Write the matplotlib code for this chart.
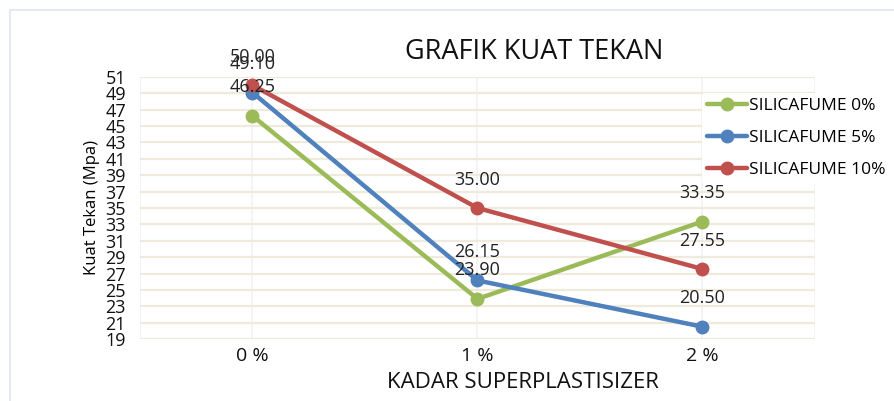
import matplotlib
matplotlib.use("Agg")
import matplotlib.pyplot as plt
from matplotlib.patches import Rectangle

categories = ["0 %", "1 %", "2 %"]
series_names = ["SILICAFUME 0%", "SILICAFUME 5%", "SILICAFUME 10%"]
sf0 = [46.25, 23.90, 33.35]
sf5 = [49.10, 26.15, 20.50]
sf10 = [50.00, 35.00, 27.55]
colors = ["#9BBB59", "#4F81BD", "#C0504D"]
yticks = list(range(19, 52, 2))

fig = plt.figure(figsize=(8.94, 4.01), dpi=100)
fig.patch.set_facecolor("white")
# faint outer frame
fig.add_artist(Rectangle((0.011, -0.05), 1.1, 1.025, transform=fig.transFigure,
                         fill=False, edgecolor="#DCE6F2", linewidth=1.2))

ax = fig.add_axes([0.1566, 0.1546, 0.755, 0.6534])
font = "Open Sans"
x = list(range(len(categories)))
for vals, name, c in zip([sf0, sf5, sf10], series_names, colors):
    ax.plot(x, vals, color=c, linewidth=3.2, marker="o", markersize=9, label=name,
            solid_capstyle="round", zorder=3)
    for xi, v in zip(x, vals):
        ax.annotate(f"{v:.2f}", (xi, v), xytext=(0, 14), textcoords="offset points",
                    ha="center", va="bottom", fontsize=13, family=font, color="#222222",
                    zorder=4)

ax.set_xlim(-0.5, 2.5)
ax.set_ylim(19, 51)
ax.set_yticks(yticks)
ax.set_xticks(x)
ax.set_xticklabels(categories, fontsize=14, family=font)
for lbl in ax.get_yticklabels():
    lbl.set_fontsize(13)
    lbl.set_family(font)
ax.tick_params(axis="both", length=0, colors="#111111")
ax.tick_params(axis="y", pad=10)
ax.tick_params(axis="x", pad=6)
ax.grid(True, axis="y", color="#EEEBDD", linewidth=1.6, zorder=0)
ax.grid(True, axis="x", color="#F2F2F2", linewidth=1.2, zorder=0)
ax.axvline(2.5, color="#F2F2F2", linewidth=1.2, zorder=0)
for s in ax.spines.values():
    s.set_visible(False)
ax.axvline(-0.5, color="#F2F2F2", linewidth=1.2, zorder=0)

ax.set_ylabel("Kuat Tekan (Mpa)", fontsize=12, family=font, labelpad=4)
fig.text(523 / 894, 1 - 382 / 401, "KADAR SUPERPLASTISIZER", ha="center", va="center",
         fontsize=16, family=font, color="#111111")
fig.text(0.598, 0.87, "GRAFIK KUAT TEKAN", ha="center", va="center", fontsize=19.5,
         family=font, color="#111111")

leg = fig.legend(loc="upper left", bbox_to_anchor=(0.775, 0.79), frameon=True,
                 prop={"family": font, "size": 12.5}, handlelength=2.3,
                 labelspacing=0.9, handletextpad=0.15, borderpad=0.3)
leg.get_frame().set_edgecolor("none")
leg.get_frame().set_facecolor("white")
leg.get_frame().set_alpha(1)

fig.savefig("out.png", dpi=100)
